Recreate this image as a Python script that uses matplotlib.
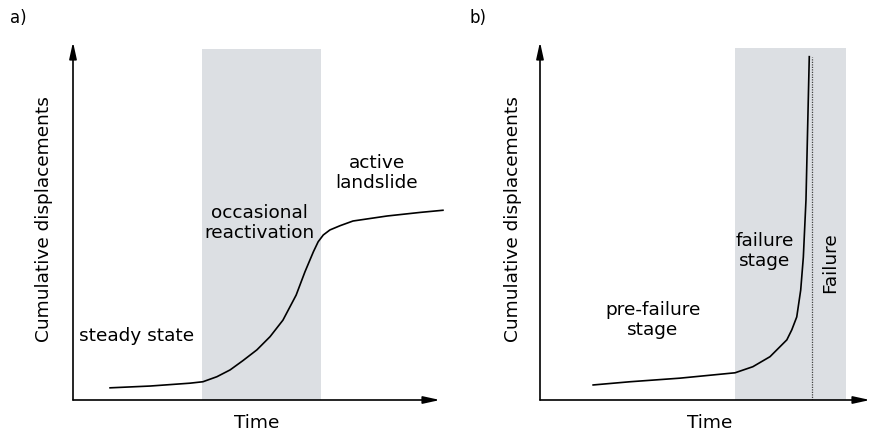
import matplotlib
matplotlib.use("Agg")
import matplotlib.pyplot as plt

# ---- data (conceptual units: time 0-100, displacement 0-100) ----
a_time = [10.1, 21.0, 31.9, 35.4, 39.2, 42.8, 46.3, 50.1, 53.7, 57.2, 60.8,
          63.2, 65.5, 66.8, 68.2, 70.0, 72.8, 76.3, 85.6, 94.6, 100.8]
a_disp = [3.4, 3.9, 4.7, 5.1, 6.5, 8.4, 11.0, 14.0, 17.7, 22.3, 29.3,
          35.8, 41.4, 44.2, 46.1, 47.5, 48.7, 50.0, 51.4, 52.4, 53.0]
a_shade = (35.1, 67.6, 98.0)

b_time = [16.1, 27.3, 42.4, 59.1, 64.5, 69.7, 74.8, 76.3, 77.8, 79.0, 79.8,
          80.6, 81.6]
b_disp = [4.2, 5.1, 6.1, 7.6, 9.3, 12.1, 16.8, 19.6, 23.2, 30.7, 39.9,
          55.9, 95.9]
b_shade = (59.1, 92.7, 98.3)
b_failure_time = 82.5
b_failure_top = 95.9

xlabel = "Time"
ylabel = "Cumulative displacements"

SHADE = "#dcdfe3"
FS = 13.3

fig = plt.figure(figsize=(8.71, 4.32), dpi=100)

def make_axes(left_px, right_px):
    W, H = 871, 432
    top_px, bot_px = 42, 400
    ax = fig.add_axes([left_px / W, (H - bot_px) / H,
                       (right_px - left_px) / W, (bot_px - top_px) / H])
    ax.set_xlim(0, 100)
    ax.set_ylim(0, 100)
    ax.axis("off")
    for xy in [(0, 100), (100, 0)]:
        ax.annotate("", xy=xy, xytext=(0, 0), xycoords="data",
                    arrowprops=dict(arrowstyle="-|>,head_length=1.0,head_width=0.22",
                                    lw=1.2, color="black", shrinkA=0, shrinkB=0),
                    annotation_clip=False)
    return ax

# ---- panel a ----
axa = make_axes(73, 440)
axa.fill_between([a_shade[0], a_shade[1]], 0, a_shade[2], color=SHADE, lw=0, zorder=0)
axa.plot(a_time, a_disp, color="black", lw=1.2, clip_on=False)
axa.text(17.4, 17.9, "steady state", ha="center", va="center", fontsize=FS)
axa.text(50.7, 49.4, "occasional\nreactivation", ha="center", va="center", fontsize=FS,
         linespacing=1.15)
axa.text(82.8, 63.5, "active\nlandslide", ha="center", va="center", fontsize=FS,
         linespacing=1.15)
axa.text(50.1, -6.4, xlabel, ha="center", va="center", fontsize=FS)
axa.text(-7.9, 50.6, ylabel, ha="center", va="center", fontsize=FS, rotation=90)
axa.text(-15.0, 106.7, "a)", ha="center", va="center", fontsize=12)

# ---- panel b ----
axb = make_axes(540, 870)
axb.fill_between([b_shade[0], b_shade[1]], 0, b_shade[2], color=SHADE, lw=0, zorder=0)
axb.plot([b_failure_time, b_failure_time], [0, b_failure_top], color="#444444",
         lw=0.9, ls=(0, (1, 1)))
axb.plot(b_time, b_disp, color="black", lw=1.2, clip_on=False)
axb.text(34.2, 22.3, "pre-failure\nstage", ha="center", va="center", fontsize=FS,
         linespacing=1.15)
axb.text(68.2, 41.5, "failure\nstage", ha="center", va="center", fontsize=FS,
         linespacing=1.15)
axb.text(87.9, 38.5, "Failure", ha="center", va="center", fontsize=FS, rotation=90)
axb.text(51.5, -6.4, xlabel, ha="center", va="center", fontsize=FS)
axb.text(-8.2, 50.6, ylabel, ha="center", va="center", fontsize=FS, rotation=90)
axb.text(-18.8, 106.7, "b)", ha="center", va="center", fontsize=12)

fig.savefig("out.png", dpi=100)
